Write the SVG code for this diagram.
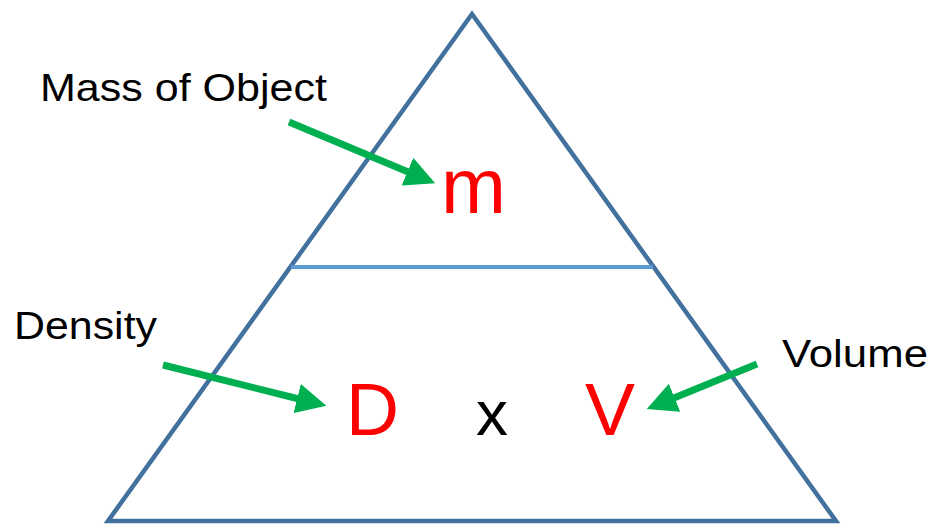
<svg xmlns="http://www.w3.org/2000/svg" width="934" height="529" viewBox="0 0 934 529">
<defs>
<style>
.lbl{font-family:"Liberation Sans",Arial,sans-serif;font-size:39px;fill:#000}
.big{font-family:"Liberation Sans",Arial,sans-serif;font-size:74px;fill:#ff0000}
.arr{stroke:#00b050;stroke-width:7;fill:none}
</style>
<marker id="ah" viewBox="0 0 10 10" refX="2" refY="5" markerWidth="4.3" markerHeight="4.3" markerUnits="strokeWidth" orient="auto">
<path d="M0,0 L10,5 L0,10 z" fill="#00b050"/>
</marker>
</defs>
<rect width="934" height="529" fill="#fff"/>
<g id="triangle">
<polygon points="472,14 108,521 836,521" fill="none" stroke="#41719c" stroke-width="4.5" stroke-linejoin="miter"/>
<line x1="291" y1="267" x2="653" y2="267" stroke="#5b9bd5" stroke-width="4"/>
</g>
<g id="mass-label"><text class="lbl" x="40" y="101" textLength="287" lengthAdjust="spacingAndGlyphs">Mass of Object</text></g>
<g id="density-label"><text class="lbl" x="14" y="339" textLength="143" lengthAdjust="spacingAndGlyphs">Density</text></g>
<g id="volume-label"><text class="lbl" x="782" y="367" textLength="146" lengthAdjust="spacingAndGlyphs">Volume</text></g>
<g id="m"><text class="big" x="441" y="213" style="font-size:77px" textLength="65" lengthAdjust="spacingAndGlyphs">m</text></g>
<g id="D"><text class="big" x="346" y="435" textLength="53" lengthAdjust="spacingAndGlyphs">D</text></g>
<g id="x"><text class="lbl" x="476" y="435" style="font-size:63px" textLength="32" lengthAdjust="spacingAndGlyphs">x</text></g>
<g id="V"><text class="big" x="585" y="435" textLength="50" lengthAdjust="spacingAndGlyphs">V</text></g>
<g id="connectors">
<line class="arr" x1="289" y1="122" x2="413" y2="174" marker-end="url(#ah)"/>
<line class="arr" x1="163" y1="365" x2="303" y2="400" marker-end="url(#ah)"/>
<line class="arr" x1="757" y1="364" x2="669" y2="400" marker-end="url(#ah)"/>
</g>
</svg>
